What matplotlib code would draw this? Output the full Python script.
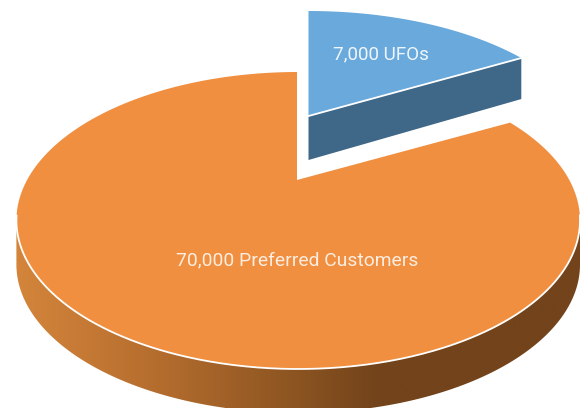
import numpy as np
import matplotlib
matplotlib.use("Agg")
import matplotlib.pyplot as plt
from matplotlib.colors import LinearSegmentedColormap
from matplotlib.patches import Polygon

categories = ["Preferred Customers", "UFOs"]
values = [70000, 7000]

plt.rcParams["font.family"] = ["Roboto", "DejaVu Sans"]

fig = plt.figure(figsize=(5.88, 4.08), dpi=100, facecolor="white")
ax = fig.add_axes([0, 0, 1, 1])
ax.set_xlim(0, 588)
ax.set_ylim(408, 0)
ax.axis("off")

# view geometry of the tilted pie
CX, CY, RX, RY = 298.2, 220.5, 281.8, 148.5
DEPTH = 44
APEX_X, APEX_Y = 297, 180
WARP = 1.49  # perspective widening of the sweep on the tilted plane
ORANGE, BLUE, BLUE_SIDE = "#F08F40", "#69A9DC", "#3F6787"

sweep = 360 * values[1] / sum(values) * WARP


def ellipse(t_deg, cx=CX, cy=CY, rx=RX, ry=RY):
    t = np.radians(t_deg)
    return np.column_stack([cx + rx * np.sin(t), cy - ry * np.cos(t)])


# orange side wall with a left to right gradient
low = ellipse(np.linspace(270, 90, 300))
wall = np.vstack([low, (low + [0, DEPTH])[::-1]])
poly = Polygon(wall, closed=True, fc="none", ec="none")
ax.add_patch(poly)
cmap = LinearSegmentedColormap.from_list(
    "wall",
    [(0.0, "#D4853B"), (0.25, "#B56D2E"), (0.5, "#8B5421"), (0.64, "#73431B"), (1.0, "#73431B")],
)
im = ax.imshow(np.linspace(0, 1, 512)[None, :], cmap=cmap, aspect="auto",
               extent=[CX - RX, CX + RX, 420, 200], zorder=1)
im.set_clip_path(poly)
ax.set_xlim(0, 588)
ax.set_ylim(408, 0)

# orange top
arc = ellipse(np.linspace(sweep, 359.76, 600))
top = np.vstack([[[APEX_X, APEX_Y]], arc])
ax.add_patch(Polygon(top, closed=True, fc=ORANGE, ec="none", zorder=2))
rim = ellipse(np.linspace(272, 88, 300))
ax.plot(rim[:, 0], rim[:, 1], color="white", lw=1.3, zorder=3, solid_capstyle="round")

# exploded blue slice
BCX, BTOP, BRX, BRY = 308.5, 11, 283, 138
barc = ellipse(np.linspace(0, sweep, 120), BCX, BTOP + BRY, BRX, BRY)
bapex = np.array([BCX, 116])
btip = barc[-1]
side = np.array([bapex, btip, btip + [0, 41], bapex + [0, 44]])
ax.add_patch(Polygon(side, closed=True, fc=BLUE_SIDE, ec="none", zorder=2))
ax.add_patch(Polygon(np.vstack([[bapex], barc]), closed=True, fc=BLUE, ec="none", zorder=3))
ax.plot([bapex[0], btip[0]], [bapex[1], btip[1]], color="white", lw=1.3, zorder=4)

# labels
ax.text(297.5, 260.5, f"{values[0]:,} {categories[0]}", color="#FDEDE0", fontsize=13.85,
        ha="center", va="center", zorder=5)
ax.text(381, 54.5, f"{values[1]:,} {categories[1]}", color="#EEF5FB", fontsize=13.6,
        ha="center", va="center", zorder=5)

fig.savefig("out.png", dpi=100)
